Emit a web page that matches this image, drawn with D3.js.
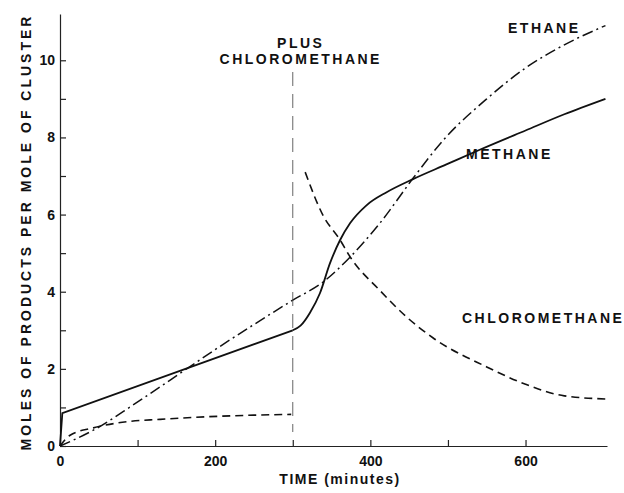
<!DOCTYPE html>
<html>
<head>
<meta charset="utf-8">
<script src="https://cdn.jsdelivr.net/npm/d3@7"></script>
<style>
  body { margin: 0; background: #fff; }
  svg { display: block; }
  text { font-family: "Liberation Sans", Arial, sans-serif; fill: #111; }
  .axis text { font-size: 14px; font-weight: bold; }
  .label { font-size: 14px; font-weight: bold; letter-spacing: 2.5px; }
</style>
</head>
<body>
<svg></svg>
<script>
var width = 624, height = 493;

// time in minutes, values in moles per mole of cluster
// methane: straight part before the chloromethane is added, then the smooth rise
var methaneEarlyT = [0, 3, 300];
var methaneEarlyV = [0, 0.85, 3.0];
var methaneLateT = [300, 310, 322, 335, 348, 361, 374, 395, 421, 455, 498, 541, 600, 650, 703];
var methaneLateV = [3.0, 3.12, 3.45, 3.96, 4.74, 5.34, 5.78, 6.24, 6.58, 6.92, 7.3, 7.68, 8.18, 8.6, 9.0];

var ethaneT = [0, 43, 94, 142, 200, 250, 300, 339, 374, 412, 455, 494, 550, 600, 650, 703];
var ethaneV = [0, 0.41, 1.06, 1.71, 2.5, 3.15, 3.78, 4.25, 4.9, 5.77, 6.94, 7.93, 9.0, 9.8, 10.4, 10.9];

var chloroT1 = [0, 13, 43, 86, 129, 192, 250, 298];
var chloroV1 = [0, 0.28, 0.47, 0.63, 0.69, 0.76, 0.80, 0.82];
var chloroT2 = [316, 339, 361, 374, 412, 447, 481, 550, 600, 650, 703];
var chloroV2 = [7.1, 5.98, 5.34, 4.9, 4.04, 3.34, 2.80, 2.05, 1.6, 1.3, 1.22];

var xTicks = [0, 100, 200, 300, 400, 500, 600];
var xLabels = [0, 200, 400, 600];
var yTicks = [0, 1, 2, 3, 4, 5, 6, 7, 8, 9, 10];
var yLabels = [0, 2, 4, 6, 8, 10];
var addTime = 300;

var svg = d3.select("svg")
  .attr("width", width)
  .attr("height", height);

var x = d3.scaleLinear().domain([0, 705]).range([60, 607]);
var y = d3.scaleLinear().domain([0, 11.2]).range([446, 14]);

// axes, ticks pointing inwards
svg.append("g")
  .classed("axis", true)
  .attr("transform", "translate(0," + y(0) + ")")
  .call(d3.axisBottom(x)
    .tickValues(xTicks)
    .tickSize(-6)
    .tickSizeOuter(0)
    .tickPadding(10)
    .tickFormat(d => xLabels.indexOf(d) >= 0 ? d : ""));

svg.append("g")
  .classed("axis", true)
  .attr("transform", "translate(" + x(0) + ",0)")
  .call(d3.axisLeft(y)
    .tickValues(yTicks)
    .tickSize(-6)
    .tickSizeOuter(0)
    .tickPadding(5)
    .tickFormat(d => yLabels.indexOf(d) >= 0 ? d : ""));

svg.selectAll(".axis path, .axis line")
  .attr("stroke", "#222")
  .attr("stroke-width", 1.2);

svg.selectAll(".axis text").attr("fill", "#111");

function zip(ts, vs) {
  return ts.map((t, i) => [t, vs[i]]);
}

var line = d3.line()
  .x(d => x(d[0]))
  .y(d => y(d[1]))
  .curve(d3.curveMonotoneX);

var straight = d3.line()
  .x(d => x(d[0]))
  .y(d => y(d[1]));

svg.append("path")
  .datum(zip(methaneEarlyT, methaneEarlyV))
  .attr("d", straight)
  .attr("fill", "none")
  .attr("stroke", "#111")
  .attr("stroke-width", 1.8);

svg.append("path")
  .datum(zip(methaneLateT, methaneLateV))
  .attr("d", line)
  .attr("fill", "none")
  .attr("stroke", "#111")
  .attr("stroke-width", 1.8);

svg.append("path")
  .datum(zip(ethaneT, ethaneV))
  .attr("d", line)
  .attr("fill", "none")
  .attr("stroke", "#111")
  .attr("stroke-width", 1.5)
  .attr("stroke-dasharray", "11,4,2,4");

[zip(chloroT1, chloroV1), zip(chloroT2, chloroV2)].forEach(function(pts) {
  svg.append("path")
    .datum(pts)
    .attr("d", line)
    .attr("fill", "none")
    .attr("stroke", "#111")
    .attr("stroke-width", 1.6)
    .attr("stroke-dasharray", "8,5");
});

// chloromethane addition marker
svg.append("line")
  .attr("x1", x(addTime)).attr("x2", x(addTime))
  .attr("y1", 72).attr("y2", 432)
  .attr("stroke", "#555")
  .attr("stroke-width", 0.9)
  .attr("stroke-dasharray", "14,8");

svg.append("text").classed("label", true)
  .attr("x", x(addTime) + 8).attr("y", 48)
  .attr("text-anchor", "middle")
  .text("PLUS");
svg.append("text").classed("label", true)
  .attr("x", x(addTime) + 8).attr("y", 64)
  .attr("text-anchor", "middle")
  .text("CHLOROMETHANE");

svg.append("text").classed("label", true)
  .attr("x", 508).attr("y", 33)
  .text("ETHANE");
svg.append("text").classed("label", true)
  .attr("x", 466).attr("y", 159)
  .text("METHANE");
svg.append("text").classed("label", true)
  .attr("x", 462).attr("y", 323)
  .text("CHLOROMETHANE");

// axis titles
svg.append("text").classed("label", true)
  .attr("x", 340).attr("y", 484)
  .attr("text-anchor", "middle")
  .style("letter-spacing", "1.5px")
  .text("TIME (minutes)");

svg.append("text").classed("label", true)
  .attr("transform", "rotate(-90)")
  .attr("x", -232)
  .attr("y", 31)
  .attr("text-anchor", "middle")
  .style("letter-spacing", "3px")
  .text("MOLES OF PRODUCTS PER MOLE OF CLUSTER");
</script>
</body>
</html>
